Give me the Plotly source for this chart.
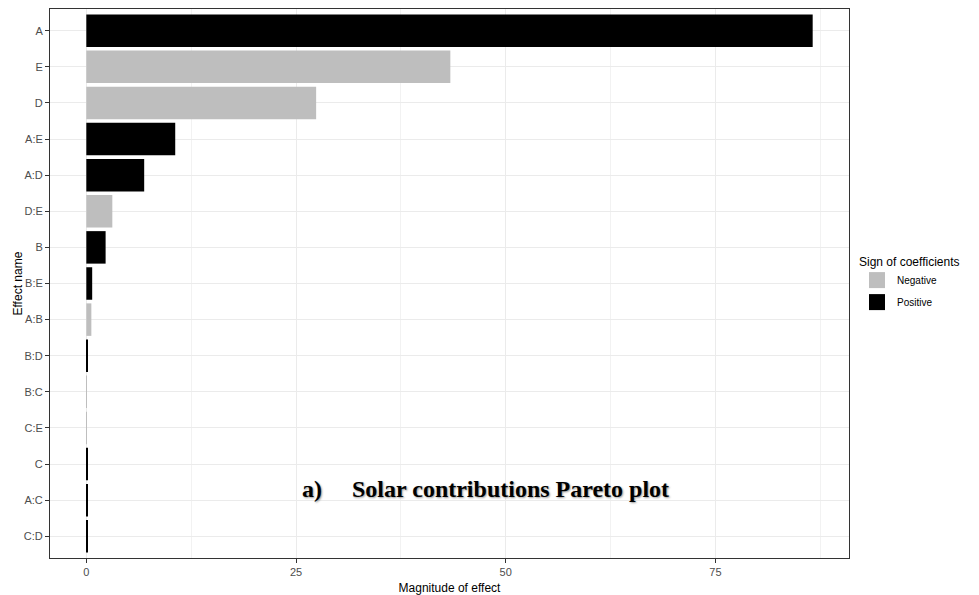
import plotly.graph_objects as go

# Effects, ordered from largest to smallest magnitude
effects = ["A", "E", "D", "A:E", "A:D", "D:E", "B", "B:E", "A:B", "B:D",
           "B:C", "C:E", "C", "A:C", "C:D"]
magnitude = [86.6, 43.4, 27.4, 10.6, 6.9, 3.1, 2.3, 0.7, 0.6, 0.2,
             0.05, 0.05, 0.1, 0.1, 0.1]
sign = ["Positive", "Negative", "Negative", "Positive", "Positive", "Negative",
        "Positive", "Positive", "Negative", "Positive",
        "Negative", "Negative", "Positive", "Positive", "Positive"]

sign_levels = ["Negative", "Positive"]
sign_colors = {"Negative": "#bebebe", "Positive": "#000000"}

fig = go.Figure()
for lvl in sign_levels:
    ys = [e for e, s in zip(effects, sign) if s == lvl]
    xs = [m for m, s in zip(magnitude, sign) if s == lvl]
    fig.add_trace(go.Bar(
        x=xs, y=ys, orientation="h", name=lvl, legendgroup=lvl,
        marker=dict(color=sign_colors[lvl], line=dict(width=0)),
        width=0.9, showlegend=False,
    ))
    # square legend key for this sign
    fig.add_trace(go.Scatter(
        x=[None], y=[None], mode="markers", name=lvl, legendgroup=lvl,
        marker=dict(symbol="square", size=17, color=sign_colors[lvl]),
        showlegend=True,
    ))

xmax = max(magnitude)
pad = 0.05 * xmax

L, R, T, B = 50, 130, 9, 37
W, H = 979, 595
fig.update_layout(
    width=W, height=H,
    margin=dict(l=L, r=R, t=T, b=B),
    paper_bgcolor="white", plot_bgcolor="white",
    barmode="overlay",
    font=dict(family="Liberation Sans, Arial, sans-serif", size=11, color="#4d4d4d"),
    xaxis=dict(
        range=[-pad, xmax + pad], automargin=False,
        tickvals=[0, 25, 50, 75], ticktext=["0", "25", "50", "75"],
        showgrid=True, gridcolor="#ebebeb", gridwidth=1,
        minor=dict(tickvals=[12.5, 37.5, 62.5, 87.5], showgrid=True,
                   gridcolor="#f2f2f2", gridwidth=0.6, ticks=""),
        zeroline=False,
        showline=True, mirror=True, linecolor="#333333", linewidth=1,
        ticks="outside", ticklen=4, tickcolor="#333333",
        title=dict(text="Magnitude of effect", font=dict(size=12, color="#000000")),
    ),
    yaxis=dict(
        categoryorder="array", categoryarray=effects[::-1], automargin=False,
        range=[-0.6, len(effects) - 0.4],
        showgrid=True, gridcolor="#ebebeb", gridwidth=1,
        zeroline=False,
        showline=True, mirror=True, linecolor="#333333", linewidth=1,
        ticks="outside", ticklen=4, tickcolor="#333333",
    ),
    legend=dict(
        title=dict(text="Sign of coefficients", font=dict(size=12, color="#000000")),
        font=dict(size=10, color="#000000"),
        x=1.01, xanchor="left", y=0.5, yanchor="middle",
        bgcolor="rgba(0,0,0,0)", itemsizing="trace", tracegroupgap=3,
    ),
    annotations=[
        dict(
            text="Effect name",
            x=(17 - L) / (W - L - R), xref="paper", y=0.5, yref="paper",
            xanchor="center", yanchor="middle", textangle=-90, showarrow=False,
            font=dict(size=12, color="#000000"),
        ),
        dict(
            text="a)     Solar contributions Pareto plot",
            x=(486 - L) / (W - L - R), xref="paper", y=0.125, yref="paper",
            xanchor="center", yanchor="middle", showarrow=False,
            font=dict(family="Liberation Serif, Times New Roman, serif", size=24,
                      color="#000000", weight="bold", shadow="1px 1px 2px #9a9a9a"),
        ),
    ],
)

fig.write_html("out.html")
